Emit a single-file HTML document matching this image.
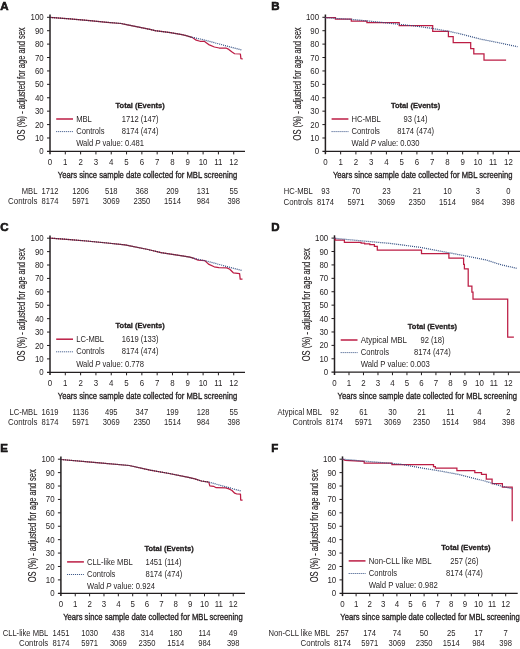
<!DOCTYPE html>
<html><head><meta charset="utf-8"><style>
html,body{margin:0;padding:0;background:#fff;}
svg{display:block;will-change:transform;}
text{font-family:"Liberation Sans",sans-serif;fill:#231f20;}
</style></head><body>
<svg width="520" height="649" viewBox="0 0 520 649">
<rect width="520" height="649" fill="#fff"/>
<g id="pA">
<text x="0.2" y="9.7" font-size="11.5" font-weight="bold" fill="#000" stroke="#000" stroke-width="0.55">A</text>
<path d="M50.0,14.50 V154.20" stroke="#231f20" stroke-width="1.5" fill="none"/>
<path d="M47.0,151.4 H245.0" stroke="#231f20" stroke-width="1.2" fill="none"/>
<text transform="translate(43.70,154.45) scale(0.92,1)" font-size="8.6" text-anchor="end">0</text>
<path d="M47.0,137.99 H50.0" stroke="#231f20" stroke-width="1" fill="none"/>
<text transform="translate(43.70,141.04) scale(0.92,1)" font-size="8.6" text-anchor="end">10</text>
<path d="M47.0,124.58 H50.0" stroke="#231f20" stroke-width="1" fill="none"/>
<text transform="translate(43.70,127.63) scale(0.92,1)" font-size="8.6" text-anchor="end">20</text>
<path d="M47.0,111.17 H50.0" stroke="#231f20" stroke-width="1" fill="none"/>
<text transform="translate(43.70,114.22) scale(0.92,1)" font-size="8.6" text-anchor="end">30</text>
<path d="M47.0,97.76 H50.0" stroke="#231f20" stroke-width="1" fill="none"/>
<text transform="translate(43.70,100.81) scale(0.92,1)" font-size="8.6" text-anchor="end">40</text>
<path d="M47.0,84.35 H50.0" stroke="#231f20" stroke-width="1" fill="none"/>
<text transform="translate(43.70,87.40) scale(0.92,1)" font-size="8.6" text-anchor="end">50</text>
<path d="M47.0,70.94 H50.0" stroke="#231f20" stroke-width="1" fill="none"/>
<text transform="translate(43.70,73.99) scale(0.92,1)" font-size="8.6" text-anchor="end">60</text>
<path d="M47.0,57.53 H50.0" stroke="#231f20" stroke-width="1" fill="none"/>
<text transform="translate(43.70,60.58) scale(0.92,1)" font-size="8.6" text-anchor="end">70</text>
<path d="M47.0,44.12 H50.0" stroke="#231f20" stroke-width="1" fill="none"/>
<text transform="translate(43.70,47.17) scale(0.92,1)" font-size="8.6" text-anchor="end">80</text>
<path d="M47.0,30.71 H50.0" stroke="#231f20" stroke-width="1" fill="none"/>
<text transform="translate(43.70,33.76) scale(0.92,1)" font-size="8.6" text-anchor="end">90</text>
<path d="M47.0,17.30 H50.0" stroke="#231f20" stroke-width="1" fill="none"/>
<text transform="translate(43.70,20.35) scale(0.92,1)" font-size="8.6" text-anchor="end">100</text>
<text transform="translate(50.00,164.80) scale(0.92,1)" font-size="8.6" text-anchor="middle">0</text>
<path d="M65.31,151.4 V154.40" stroke="#231f20" stroke-width="1" fill="none"/>
<text transform="translate(65.31,164.80) scale(0.92,1)" font-size="8.6" text-anchor="middle">1</text>
<path d="M80.62,151.4 V154.40" stroke="#231f20" stroke-width="1" fill="none"/>
<text transform="translate(80.62,164.80) scale(0.92,1)" font-size="8.6" text-anchor="middle">2</text>
<path d="M95.93,151.4 V154.40" stroke="#231f20" stroke-width="1" fill="none"/>
<text transform="translate(95.93,164.80) scale(0.92,1)" font-size="8.6" text-anchor="middle">3</text>
<path d="M111.24,151.4 V154.40" stroke="#231f20" stroke-width="1" fill="none"/>
<text transform="translate(111.24,164.80) scale(0.92,1)" font-size="8.6" text-anchor="middle">4</text>
<path d="M126.55,151.4 V154.40" stroke="#231f20" stroke-width="1" fill="none"/>
<text transform="translate(126.55,164.80) scale(0.92,1)" font-size="8.6" text-anchor="middle">5</text>
<path d="M141.86,151.4 V154.40" stroke="#231f20" stroke-width="1" fill="none"/>
<text transform="translate(141.86,164.80) scale(0.92,1)" font-size="8.6" text-anchor="middle">6</text>
<path d="M157.17,151.4 V154.40" stroke="#231f20" stroke-width="1" fill="none"/>
<text transform="translate(157.17,164.80) scale(0.92,1)" font-size="8.6" text-anchor="middle">7</text>
<path d="M172.48,151.4 V154.40" stroke="#231f20" stroke-width="1" fill="none"/>
<text transform="translate(172.48,164.80) scale(0.92,1)" font-size="8.6" text-anchor="middle">8</text>
<path d="M187.79,151.4 V154.40" stroke="#231f20" stroke-width="1" fill="none"/>
<text transform="translate(187.79,164.80) scale(0.92,1)" font-size="8.6" text-anchor="middle">9</text>
<path d="M203.10,151.4 V154.40" stroke="#231f20" stroke-width="1" fill="none"/>
<text transform="translate(203.10,164.80) scale(0.92,1)" font-size="8.6" text-anchor="middle">10</text>
<path d="M218.41,151.4 V154.40" stroke="#231f20" stroke-width="1" fill="none"/>
<text transform="translate(218.41,164.80) scale(0.92,1)" font-size="8.6" text-anchor="middle">11</text>
<path d="M233.72,151.4 V154.40" stroke="#231f20" stroke-width="1" fill="none"/>
<text transform="translate(233.72,164.80) scale(0.92,1)" font-size="8.6" text-anchor="middle">12</text>
<text x="57.75" y="178.10" font-size="9.8" stroke="#231f20" stroke-width="0.35" textLength="179.5" lengthAdjust="spacingAndGlyphs">Years since sample date collected for MBL screening</text>
<text transform="translate(25.40,140.40) rotate(-90)" x="0" y="0" font-size="10" stroke="#231f20" stroke-width="0.15" textLength="113" lengthAdjust="spacingAndGlyphs">OS (%) - adjusted for age and sex</text>
<text x="115.50" y="108.00" font-size="7.8" font-weight="bold" stroke="#231f20" stroke-width="0.3" textLength="49.3" lengthAdjust="spacingAndGlyphs">Total (Events)</text>
<path d="M56.20,119.00 H73.00" stroke="#bc1d44" stroke-width="1.5" fill="none"/>
<path d="M56.20,131.60 H73.00" stroke="#2f4c80" stroke-width="1" stroke-dasharray="1 1" fill="none"/>
<text transform="translate(76.20,121.90) scale(0.885,1)" font-size="8.6">MBL</text>
<text transform="translate(76.20,133.90) scale(0.885,1)" font-size="8.6">Controls</text>
<text transform="translate(76.20,146.30) scale(0.885,1)" font-size="8.6">Wald <tspan font-style="italic">P</tspan> value: 0.481</text>
<text transform="translate(140.15,121.90) scale(0.885,1)" font-size="8.6" text-anchor="middle">1712 (147)</text>
<text transform="translate(140.15,133.90) scale(0.885,1)" font-size="8.6" text-anchor="middle">8174 (474)</text>
<text transform="translate(37.40,193.80) scale(0.885,1)" font-size="8.6" text-anchor="end">MBL</text>
<text transform="translate(37.40,203.80) scale(0.915,1)" font-size="8.6" text-anchor="end">Controls</text>
<text transform="translate(50.00,193.80) scale(0.885,1)" font-size="8.6" text-anchor="middle">1712</text>
<text transform="translate(50.00,203.80) scale(0.885,1)" font-size="8.6" text-anchor="middle">8174</text>
<text transform="translate(80.62,193.80) scale(0.885,1)" font-size="8.6" text-anchor="middle">1206</text>
<text transform="translate(80.62,203.80) scale(0.885,1)" font-size="8.6" text-anchor="middle">5971</text>
<text transform="translate(111.24,193.80) scale(0.885,1)" font-size="8.6" text-anchor="middle">518</text>
<text transform="translate(111.24,203.80) scale(0.885,1)" font-size="8.6" text-anchor="middle">3069</text>
<text transform="translate(141.86,193.80) scale(0.885,1)" font-size="8.6" text-anchor="middle">368</text>
<text transform="translate(141.86,203.80) scale(0.885,1)" font-size="8.6" text-anchor="middle">2350</text>
<text transform="translate(172.48,193.80) scale(0.885,1)" font-size="8.6" text-anchor="middle">209</text>
<text transform="translate(172.48,203.80) scale(0.885,1)" font-size="8.6" text-anchor="middle">1514</text>
<text transform="translate(203.10,193.80) scale(0.885,1)" font-size="8.6" text-anchor="middle">131</text>
<text transform="translate(203.10,203.80) scale(0.885,1)" font-size="8.6" text-anchor="middle">984</text>
<text transform="translate(233.72,193.80) scale(0.885,1)" font-size="8.6" text-anchor="middle">55</text>
<text transform="translate(233.72,203.80) scale(0.885,1)" font-size="8.6" text-anchor="middle">398</text>
<path d="M50,17.4 L70,18.9 L90,20.7 L107,22.3 L121,23.5 L125,24.3 L140,27.3 L150,29.4 L155,30.7 L168.8,32.4 L182,34.6 L186.1,35.6 L192,37.3" stroke="#a81e40" stroke-width="1.25" fill="none" stroke-linejoin="round"/>
<path d="M192,37.3 L196.2,40.2 L200,41.25 L204.3,41.25 L206.25,42.7 L208.7,44.6 L214.4,47 L219.2,48 L226,48 L228.8,49.4 L231.7,51.8 L234.6,53.75 L240.4,54 L240.9,58.6 L242.8,59" stroke="#bc1d44" stroke-width="1.25" fill="none" stroke-linejoin="round"/>
<path d="M192,37.3 L200,39 L220,44.2 L241.3,49.9" stroke="#2f4c80" stroke-width="1.25" stroke-dasharray="1 1" fill="none"/>
<path d="M50,17.4 L70,18.9 L90,20.7 L107,22.3 L121,23.5 L125,24.3 L140,27.3 L150,29.4 L155,30.7 L168.8,32.4 L182,34.6 L186.1,35.6 L192,37.3" stroke="#2e3448" stroke-width="1.25" stroke-dasharray="1 1" fill="none"/>
</g>
<g id="pB">
<text x="271.2" y="9.7" font-size="11.5" font-weight="bold" fill="#000" stroke="#000" stroke-width="0.55">B</text>
<path d="M325.4,14.50 V154.20" stroke="#231f20" stroke-width="1.5" fill="none"/>
<path d="M322.4,151.4 H520.0" stroke="#231f20" stroke-width="1.2" fill="none"/>
<text transform="translate(319.10,154.45) scale(0.92,1)" font-size="8.6" text-anchor="end">0</text>
<path d="M322.4,137.99 H325.4" stroke="#231f20" stroke-width="1" fill="none"/>
<text transform="translate(319.10,141.04) scale(0.92,1)" font-size="8.6" text-anchor="end">10</text>
<path d="M322.4,124.58 H325.4" stroke="#231f20" stroke-width="1" fill="none"/>
<text transform="translate(319.10,127.63) scale(0.92,1)" font-size="8.6" text-anchor="end">20</text>
<path d="M322.4,111.17 H325.4" stroke="#231f20" stroke-width="1" fill="none"/>
<text transform="translate(319.10,114.22) scale(0.92,1)" font-size="8.6" text-anchor="end">30</text>
<path d="M322.4,97.76 H325.4" stroke="#231f20" stroke-width="1" fill="none"/>
<text transform="translate(319.10,100.81) scale(0.92,1)" font-size="8.6" text-anchor="end">40</text>
<path d="M322.4,84.35 H325.4" stroke="#231f20" stroke-width="1" fill="none"/>
<text transform="translate(319.10,87.40) scale(0.92,1)" font-size="8.6" text-anchor="end">50</text>
<path d="M322.4,70.94 H325.4" stroke="#231f20" stroke-width="1" fill="none"/>
<text transform="translate(319.10,73.99) scale(0.92,1)" font-size="8.6" text-anchor="end">60</text>
<path d="M322.4,57.53 H325.4" stroke="#231f20" stroke-width="1" fill="none"/>
<text transform="translate(319.10,60.58) scale(0.92,1)" font-size="8.6" text-anchor="end">70</text>
<path d="M322.4,44.12 H325.4" stroke="#231f20" stroke-width="1" fill="none"/>
<text transform="translate(319.10,47.17) scale(0.92,1)" font-size="8.6" text-anchor="end">80</text>
<path d="M322.4,30.71 H325.4" stroke="#231f20" stroke-width="1" fill="none"/>
<text transform="translate(319.10,33.76) scale(0.92,1)" font-size="8.6" text-anchor="end">90</text>
<path d="M322.4,17.30 H325.4" stroke="#231f20" stroke-width="1" fill="none"/>
<text transform="translate(319.10,20.35) scale(0.92,1)" font-size="8.6" text-anchor="end">100</text>
<text transform="translate(325.40,164.80) scale(0.92,1)" font-size="8.6" text-anchor="middle">0</text>
<path d="M340.65,151.4 V154.40" stroke="#231f20" stroke-width="1" fill="none"/>
<text transform="translate(340.65,164.80) scale(0.92,1)" font-size="8.6" text-anchor="middle">1</text>
<path d="M355.90,151.4 V154.40" stroke="#231f20" stroke-width="1" fill="none"/>
<text transform="translate(355.90,164.80) scale(0.92,1)" font-size="8.6" text-anchor="middle">2</text>
<path d="M371.15,151.4 V154.40" stroke="#231f20" stroke-width="1" fill="none"/>
<text transform="translate(371.15,164.80) scale(0.92,1)" font-size="8.6" text-anchor="middle">3</text>
<path d="M386.40,151.4 V154.40" stroke="#231f20" stroke-width="1" fill="none"/>
<text transform="translate(386.40,164.80) scale(0.92,1)" font-size="8.6" text-anchor="middle">4</text>
<path d="M401.65,151.4 V154.40" stroke="#231f20" stroke-width="1" fill="none"/>
<text transform="translate(401.65,164.80) scale(0.92,1)" font-size="8.6" text-anchor="middle">5</text>
<path d="M416.90,151.4 V154.40" stroke="#231f20" stroke-width="1" fill="none"/>
<text transform="translate(416.90,164.80) scale(0.92,1)" font-size="8.6" text-anchor="middle">6</text>
<path d="M432.15,151.4 V154.40" stroke="#231f20" stroke-width="1" fill="none"/>
<text transform="translate(432.15,164.80) scale(0.92,1)" font-size="8.6" text-anchor="middle">7</text>
<path d="M447.40,151.4 V154.40" stroke="#231f20" stroke-width="1" fill="none"/>
<text transform="translate(447.40,164.80) scale(0.92,1)" font-size="8.6" text-anchor="middle">8</text>
<path d="M462.65,151.4 V154.40" stroke="#231f20" stroke-width="1" fill="none"/>
<text transform="translate(462.65,164.80) scale(0.92,1)" font-size="8.6" text-anchor="middle">9</text>
<path d="M477.90,151.4 V154.40" stroke="#231f20" stroke-width="1" fill="none"/>
<text transform="translate(477.90,164.80) scale(0.92,1)" font-size="8.6" text-anchor="middle">10</text>
<path d="M493.15,151.4 V154.40" stroke="#231f20" stroke-width="1" fill="none"/>
<text transform="translate(493.15,164.80) scale(0.92,1)" font-size="8.6" text-anchor="middle">11</text>
<path d="M508.40,151.4 V154.40" stroke="#231f20" stroke-width="1" fill="none"/>
<text transform="translate(508.40,164.80) scale(0.92,1)" font-size="8.6" text-anchor="middle">12</text>
<text x="332.95" y="178.10" font-size="9.8" stroke="#231f20" stroke-width="0.35" textLength="179.5" lengthAdjust="spacingAndGlyphs">Years since sample date collected for MBL screening</text>
<text transform="translate(300.80,140.40) rotate(-90)" x="0" y="0" font-size="10" stroke="#231f20" stroke-width="0.15" textLength="113" lengthAdjust="spacingAndGlyphs">OS (%) - adjusted for age and sex</text>
<text x="390.90" y="108.00" font-size="7.8" font-weight="bold" stroke="#231f20" stroke-width="0.3" textLength="49.3" lengthAdjust="spacingAndGlyphs">Total (Events)</text>
<path d="M331.60,119.00 H348.40" stroke="#bc1d44" stroke-width="1.5" fill="none"/>
<path d="M331.60,131.60 H348.40" stroke="#2f4c80" stroke-width="1" stroke-dasharray="1 1" fill="none"/>
<text transform="translate(351.60,121.90) scale(0.885,1)" font-size="8.6">HC-MBL</text>
<text transform="translate(351.60,133.90) scale(0.885,1)" font-size="8.6">Controls</text>
<text transform="translate(351.60,146.30) scale(0.885,1)" font-size="8.6">Wald <tspan font-style="italic">P</tspan> value: 0.030</text>
<text transform="translate(415.55,121.90) scale(0.885,1)" font-size="8.6" text-anchor="middle">93 (14)</text>
<text transform="translate(415.55,133.90) scale(0.885,1)" font-size="8.6" text-anchor="middle">8174 (474)</text>
<text transform="translate(312.80,193.80) scale(0.885,1)" font-size="8.6" text-anchor="end">HC-MBL</text>
<text transform="translate(312.80,204.50) scale(0.915,1)" font-size="8.6" text-anchor="end">Controls</text>
<text transform="translate(325.40,193.80) scale(0.885,1)" font-size="8.6" text-anchor="middle">93</text>
<text transform="translate(325.40,204.50) scale(0.885,1)" font-size="8.6" text-anchor="middle">8174</text>
<text transform="translate(355.90,193.80) scale(0.885,1)" font-size="8.6" text-anchor="middle">70</text>
<text transform="translate(355.90,204.50) scale(0.885,1)" font-size="8.6" text-anchor="middle">5971</text>
<text transform="translate(386.40,193.80) scale(0.885,1)" font-size="8.6" text-anchor="middle">23</text>
<text transform="translate(386.40,204.50) scale(0.885,1)" font-size="8.6" text-anchor="middle">3069</text>
<text transform="translate(416.90,193.80) scale(0.885,1)" font-size="8.6" text-anchor="middle">21</text>
<text transform="translate(416.90,204.50) scale(0.885,1)" font-size="8.6" text-anchor="middle">2350</text>
<text transform="translate(447.40,193.80) scale(0.885,1)" font-size="8.6" text-anchor="middle">10</text>
<text transform="translate(447.40,204.50) scale(0.885,1)" font-size="8.6" text-anchor="middle">1514</text>
<text transform="translate(477.90,193.80) scale(0.885,1)" font-size="8.6" text-anchor="middle">3</text>
<text transform="translate(477.90,204.50) scale(0.885,1)" font-size="8.6" text-anchor="middle">984</text>
<text transform="translate(508.40,193.80) scale(0.885,1)" font-size="8.6" text-anchor="middle">0</text>
<text transform="translate(508.40,204.50) scale(0.885,1)" font-size="8.6" text-anchor="middle">398</text>
<path d="M325.4,17.7 H335.4 V19.0 H351.3 V21.1 H366.9 V22.7 H399.2 V25.6 H432.7 V31.3 H448.4 V36.6 H453.2 V42.6 H470.7 V48.7 H473.8 V53.9 H484.0 V60.2 H506.1" stroke="#bc1d44" stroke-width="1.25" fill="none"/>
<path d="M325.4,17.6 L335.4,18.4 L351.3,19.3 L366.9,20.9 L380,22.2 L399,24.3 L410,25.5 L420,26.7 L432,28.4 L440,29.8 L450,31.5 L465,35 L480,39 L500,43 L517.5,46.7" stroke="#2f4c80" stroke-width="1.25" stroke-dasharray="1 1" fill="none"/>
</g>
<g id="pC">
<text x="0.2" y="230.6" font-size="11.5" font-weight="bold" fill="#000" stroke="#000" stroke-width="0.55">C</text>
<path d="M50.0,235.40 V375.10" stroke="#231f20" stroke-width="1.5" fill="none"/>
<path d="M47.0,372.3 H245.0" stroke="#231f20" stroke-width="1.2" fill="none"/>
<text transform="translate(43.70,375.35) scale(0.92,1)" font-size="8.6" text-anchor="end">0</text>
<path d="M47.0,358.89 H50.0" stroke="#231f20" stroke-width="1" fill="none"/>
<text transform="translate(43.70,361.94) scale(0.92,1)" font-size="8.6" text-anchor="end">10</text>
<path d="M47.0,345.48 H50.0" stroke="#231f20" stroke-width="1" fill="none"/>
<text transform="translate(43.70,348.53) scale(0.92,1)" font-size="8.6" text-anchor="end">20</text>
<path d="M47.0,332.07 H50.0" stroke="#231f20" stroke-width="1" fill="none"/>
<text transform="translate(43.70,335.12) scale(0.92,1)" font-size="8.6" text-anchor="end">30</text>
<path d="M47.0,318.66 H50.0" stroke="#231f20" stroke-width="1" fill="none"/>
<text transform="translate(43.70,321.71) scale(0.92,1)" font-size="8.6" text-anchor="end">40</text>
<path d="M47.0,305.25 H50.0" stroke="#231f20" stroke-width="1" fill="none"/>
<text transform="translate(43.70,308.30) scale(0.92,1)" font-size="8.6" text-anchor="end">50</text>
<path d="M47.0,291.84 H50.0" stroke="#231f20" stroke-width="1" fill="none"/>
<text transform="translate(43.70,294.89) scale(0.92,1)" font-size="8.6" text-anchor="end">60</text>
<path d="M47.0,278.43 H50.0" stroke="#231f20" stroke-width="1" fill="none"/>
<text transform="translate(43.70,281.48) scale(0.92,1)" font-size="8.6" text-anchor="end">70</text>
<path d="M47.0,265.02 H50.0" stroke="#231f20" stroke-width="1" fill="none"/>
<text transform="translate(43.70,268.07) scale(0.92,1)" font-size="8.6" text-anchor="end">80</text>
<path d="M47.0,251.61 H50.0" stroke="#231f20" stroke-width="1" fill="none"/>
<text transform="translate(43.70,254.66) scale(0.92,1)" font-size="8.6" text-anchor="end">90</text>
<path d="M47.0,238.20 H50.0" stroke="#231f20" stroke-width="1" fill="none"/>
<text transform="translate(43.70,241.25) scale(0.92,1)" font-size="8.6" text-anchor="end">100</text>
<text transform="translate(50.00,385.70) scale(0.92,1)" font-size="8.6" text-anchor="middle">0</text>
<path d="M65.31,372.3 V375.30" stroke="#231f20" stroke-width="1" fill="none"/>
<text transform="translate(65.31,385.70) scale(0.92,1)" font-size="8.6" text-anchor="middle">1</text>
<path d="M80.62,372.3 V375.30" stroke="#231f20" stroke-width="1" fill="none"/>
<text transform="translate(80.62,385.70) scale(0.92,1)" font-size="8.6" text-anchor="middle">2</text>
<path d="M95.93,372.3 V375.30" stroke="#231f20" stroke-width="1" fill="none"/>
<text transform="translate(95.93,385.70) scale(0.92,1)" font-size="8.6" text-anchor="middle">3</text>
<path d="M111.24,372.3 V375.30" stroke="#231f20" stroke-width="1" fill="none"/>
<text transform="translate(111.24,385.70) scale(0.92,1)" font-size="8.6" text-anchor="middle">4</text>
<path d="M126.55,372.3 V375.30" stroke="#231f20" stroke-width="1" fill="none"/>
<text transform="translate(126.55,385.70) scale(0.92,1)" font-size="8.6" text-anchor="middle">5</text>
<path d="M141.86,372.3 V375.30" stroke="#231f20" stroke-width="1" fill="none"/>
<text transform="translate(141.86,385.70) scale(0.92,1)" font-size="8.6" text-anchor="middle">6</text>
<path d="M157.17,372.3 V375.30" stroke="#231f20" stroke-width="1" fill="none"/>
<text transform="translate(157.17,385.70) scale(0.92,1)" font-size="8.6" text-anchor="middle">7</text>
<path d="M172.48,372.3 V375.30" stroke="#231f20" stroke-width="1" fill="none"/>
<text transform="translate(172.48,385.70) scale(0.92,1)" font-size="8.6" text-anchor="middle">8</text>
<path d="M187.79,372.3 V375.30" stroke="#231f20" stroke-width="1" fill="none"/>
<text transform="translate(187.79,385.70) scale(0.92,1)" font-size="8.6" text-anchor="middle">9</text>
<path d="M203.10,372.3 V375.30" stroke="#231f20" stroke-width="1" fill="none"/>
<text transform="translate(203.10,385.70) scale(0.92,1)" font-size="8.6" text-anchor="middle">10</text>
<path d="M218.41,372.3 V375.30" stroke="#231f20" stroke-width="1" fill="none"/>
<text transform="translate(218.41,385.70) scale(0.92,1)" font-size="8.6" text-anchor="middle">11</text>
<path d="M233.72,372.3 V375.30" stroke="#231f20" stroke-width="1" fill="none"/>
<text transform="translate(233.72,385.70) scale(0.92,1)" font-size="8.6" text-anchor="middle">12</text>
<text x="57.75" y="399.00" font-size="9.8" stroke="#231f20" stroke-width="0.35" textLength="179.5" lengthAdjust="spacingAndGlyphs">Years since sample date collected for MBL screening</text>
<text transform="translate(25.40,361.30) rotate(-90)" x="0" y="0" font-size="10" stroke="#231f20" stroke-width="0.15" textLength="113" lengthAdjust="spacingAndGlyphs">OS (%) - adjusted for age and sex</text>
<text x="115.50" y="328.20" font-size="7.8" font-weight="bold" stroke="#231f20" stroke-width="0.3" textLength="49.3" lengthAdjust="spacingAndGlyphs">Total (Events)</text>
<path d="M56.20,339.20 H73.00" stroke="#bc1d44" stroke-width="1.5" fill="none"/>
<path d="M56.20,351.80 H73.00" stroke="#2f4c80" stroke-width="1" stroke-dasharray="1 1" fill="none"/>
<text transform="translate(76.20,342.10) scale(0.885,1)" font-size="8.6">LC-MBL</text>
<text transform="translate(76.20,354.10) scale(0.885,1)" font-size="8.6">Controls</text>
<text transform="translate(76.20,366.50) scale(0.885,1)" font-size="8.6">Wald <tspan font-style="italic">P</tspan> value: 0.778</text>
<text transform="translate(140.15,342.10) scale(0.885,1)" font-size="8.6" text-anchor="middle">1619 (133)</text>
<text transform="translate(140.15,354.10) scale(0.885,1)" font-size="8.6" text-anchor="middle">8174 (474)</text>
<text transform="translate(37.40,414.70) scale(0.885,1)" font-size="8.6" text-anchor="end">LC-MBL</text>
<text transform="translate(37.40,425.40) scale(0.915,1)" font-size="8.6" text-anchor="end">Controls</text>
<text transform="translate(50.00,414.70) scale(0.885,1)" font-size="8.6" text-anchor="middle">1619</text>
<text transform="translate(50.00,425.40) scale(0.885,1)" font-size="8.6" text-anchor="middle">8174</text>
<text transform="translate(80.62,414.70) scale(0.885,1)" font-size="8.6" text-anchor="middle">1136</text>
<text transform="translate(80.62,425.40) scale(0.885,1)" font-size="8.6" text-anchor="middle">5971</text>
<text transform="translate(111.24,414.70) scale(0.885,1)" font-size="8.6" text-anchor="middle">495</text>
<text transform="translate(111.24,425.40) scale(0.885,1)" font-size="8.6" text-anchor="middle">3069</text>
<text transform="translate(141.86,414.70) scale(0.885,1)" font-size="8.6" text-anchor="middle">347</text>
<text transform="translate(141.86,425.40) scale(0.885,1)" font-size="8.6" text-anchor="middle">2350</text>
<text transform="translate(172.48,414.70) scale(0.885,1)" font-size="8.6" text-anchor="middle">199</text>
<text transform="translate(172.48,425.40) scale(0.885,1)" font-size="8.6" text-anchor="middle">1514</text>
<text transform="translate(203.10,414.70) scale(0.885,1)" font-size="8.6" text-anchor="middle">128</text>
<text transform="translate(203.10,425.40) scale(0.885,1)" font-size="8.6" text-anchor="middle">984</text>
<text transform="translate(233.72,414.70) scale(0.885,1)" font-size="8.6" text-anchor="middle">55</text>
<text transform="translate(233.72,425.40) scale(0.885,1)" font-size="8.6" text-anchor="middle">398</text>
<path d="M50,238.1 L70,239.6 L86.5,241.0 L107,243.0 L125,244.9 L148,249.5 L161.1,252.7 L182.3,255.9 L190,257.2 L194,258.4" stroke="#a81e40" stroke-width="1.25" fill="none" stroke-linejoin="round"/>
<path d="M194,258.4 L198.1,260.1 L205,260.7 L208.5,264.1 L214.2,266.8 L218.8,267.6 L226.9,267.9 L229.8,269.3 L233.3,272.8 L239.6,273.6 L240.2,279.1 L242.5,279.1" stroke="#bc1d44" stroke-width="1.25" fill="none" stroke-linejoin="round"/>
<path d="M194,258.4 L206.1,261 L241.9,270.5" stroke="#2f4c80" stroke-width="1.25" stroke-dasharray="1 1" fill="none"/>
<path d="M50,238.1 L70,239.6 L86.5,241.0 L107,243.0 L125,244.9 L148,249.5 L161.1,252.7 L182.3,255.9 L190,257.2 L194,258.4" stroke="#2e3448" stroke-width="1.25" stroke-dasharray="1 1" fill="none"/>
</g>
<g id="pD">
<text x="271.2" y="230.6" font-size="11.5" font-weight="bold" fill="#000" stroke="#000" stroke-width="0.55">D</text>
<path d="M334.5,235.30 V375.00" stroke="#231f20" stroke-width="1.5" fill="none"/>
<path d="M331.5,372.2 H520.0" stroke="#231f20" stroke-width="1.2" fill="none"/>
<text transform="translate(328.20,375.25) scale(0.92,1)" font-size="8.6" text-anchor="end">0</text>
<path d="M331.5,358.79 H334.5" stroke="#231f20" stroke-width="1" fill="none"/>
<text transform="translate(328.20,361.84) scale(0.92,1)" font-size="8.6" text-anchor="end">10</text>
<path d="M331.5,345.38 H334.5" stroke="#231f20" stroke-width="1" fill="none"/>
<text transform="translate(328.20,348.43) scale(0.92,1)" font-size="8.6" text-anchor="end">20</text>
<path d="M331.5,331.97 H334.5" stroke="#231f20" stroke-width="1" fill="none"/>
<text transform="translate(328.20,335.02) scale(0.92,1)" font-size="8.6" text-anchor="end">30</text>
<path d="M331.5,318.56 H334.5" stroke="#231f20" stroke-width="1" fill="none"/>
<text transform="translate(328.20,321.61) scale(0.92,1)" font-size="8.6" text-anchor="end">40</text>
<path d="M331.5,305.15 H334.5" stroke="#231f20" stroke-width="1" fill="none"/>
<text transform="translate(328.20,308.20) scale(0.92,1)" font-size="8.6" text-anchor="end">50</text>
<path d="M331.5,291.74 H334.5" stroke="#231f20" stroke-width="1" fill="none"/>
<text transform="translate(328.20,294.79) scale(0.92,1)" font-size="8.6" text-anchor="end">60</text>
<path d="M331.5,278.33 H334.5" stroke="#231f20" stroke-width="1" fill="none"/>
<text transform="translate(328.20,281.38) scale(0.92,1)" font-size="8.6" text-anchor="end">70</text>
<path d="M331.5,264.92 H334.5" stroke="#231f20" stroke-width="1" fill="none"/>
<text transform="translate(328.20,267.97) scale(0.92,1)" font-size="8.6" text-anchor="end">80</text>
<path d="M331.5,251.51 H334.5" stroke="#231f20" stroke-width="1" fill="none"/>
<text transform="translate(328.20,254.56) scale(0.92,1)" font-size="8.6" text-anchor="end">90</text>
<path d="M331.5,238.10 H334.5" stroke="#231f20" stroke-width="1" fill="none"/>
<text transform="translate(328.20,241.15) scale(0.92,1)" font-size="8.6" text-anchor="end">100</text>
<text transform="translate(334.50,385.60) scale(0.92,1)" font-size="8.6" text-anchor="middle">0</text>
<path d="M348.99,372.2 V375.20" stroke="#231f20" stroke-width="1" fill="none"/>
<text transform="translate(348.99,385.60) scale(0.92,1)" font-size="8.6" text-anchor="middle">1</text>
<path d="M363.48,372.2 V375.20" stroke="#231f20" stroke-width="1" fill="none"/>
<text transform="translate(363.48,385.60) scale(0.92,1)" font-size="8.6" text-anchor="middle">2</text>
<path d="M377.97,372.2 V375.20" stroke="#231f20" stroke-width="1" fill="none"/>
<text transform="translate(377.97,385.60) scale(0.92,1)" font-size="8.6" text-anchor="middle">3</text>
<path d="M392.46,372.2 V375.20" stroke="#231f20" stroke-width="1" fill="none"/>
<text transform="translate(392.46,385.60) scale(0.92,1)" font-size="8.6" text-anchor="middle">4</text>
<path d="M406.95,372.2 V375.20" stroke="#231f20" stroke-width="1" fill="none"/>
<text transform="translate(406.95,385.60) scale(0.92,1)" font-size="8.6" text-anchor="middle">5</text>
<path d="M421.44,372.2 V375.20" stroke="#231f20" stroke-width="1" fill="none"/>
<text transform="translate(421.44,385.60) scale(0.92,1)" font-size="8.6" text-anchor="middle">6</text>
<path d="M435.93,372.2 V375.20" stroke="#231f20" stroke-width="1" fill="none"/>
<text transform="translate(435.93,385.60) scale(0.92,1)" font-size="8.6" text-anchor="middle">7</text>
<path d="M450.42,372.2 V375.20" stroke="#231f20" stroke-width="1" fill="none"/>
<text transform="translate(450.42,385.60) scale(0.92,1)" font-size="8.6" text-anchor="middle">8</text>
<path d="M464.91,372.2 V375.20" stroke="#231f20" stroke-width="1" fill="none"/>
<text transform="translate(464.91,385.60) scale(0.92,1)" font-size="8.6" text-anchor="middle">9</text>
<path d="M479.40,372.2 V375.20" stroke="#231f20" stroke-width="1" fill="none"/>
<text transform="translate(479.40,385.60) scale(0.92,1)" font-size="8.6" text-anchor="middle">10</text>
<path d="M493.89,372.2 V375.20" stroke="#231f20" stroke-width="1" fill="none"/>
<text transform="translate(493.89,385.60) scale(0.92,1)" font-size="8.6" text-anchor="middle">11</text>
<path d="M508.38,372.2 V375.20" stroke="#231f20" stroke-width="1" fill="none"/>
<text transform="translate(508.38,385.60) scale(0.92,1)" font-size="8.6" text-anchor="middle">12</text>
<text x="337.50" y="398.90" font-size="9.8" stroke="#231f20" stroke-width="0.35" textLength="179.5" lengthAdjust="spacingAndGlyphs">Years since sample date collected for MBL screening</text>
<text transform="translate(309.90,361.20) rotate(-90)" x="0" y="0" font-size="10" stroke="#231f20" stroke-width="0.15" textLength="113" lengthAdjust="spacingAndGlyphs">OS (%) - adjusted for age and sex</text>
<text x="407.80" y="329.00" font-size="7.8" font-weight="bold" stroke="#231f20" stroke-width="0.3" textLength="49.3" lengthAdjust="spacingAndGlyphs">Total (Events)</text>
<path d="M340.70,340.00 H357.50" stroke="#bc1d44" stroke-width="1.5" fill="none"/>
<path d="M340.70,352.60 H357.50" stroke="#2f4c80" stroke-width="1" stroke-dasharray="1 1" fill="none"/>
<text transform="translate(360.70,342.90) scale(0.925,1)" font-size="8.6">Atypical MBL</text>
<text transform="translate(360.70,354.90) scale(0.885,1)" font-size="8.6">Controls</text>
<text transform="translate(360.70,367.30) scale(0.905,1)" font-size="8.6">Wald P value: 0.003</text>
<text transform="translate(432.45,342.90) scale(0.885,1)" font-size="8.6" text-anchor="middle">92 (18)</text>
<text transform="translate(432.45,354.90) scale(0.885,1)" font-size="8.6" text-anchor="middle">8174 (474)</text>
<text transform="translate(321.90,414.60) scale(0.885,1)" font-size="8.6" text-anchor="end">Atypical MBL</text>
<text transform="translate(321.90,425.30) scale(0.915,1)" font-size="8.6" text-anchor="end">Controls</text>
<text transform="translate(334.50,414.60) scale(0.885,1)" font-size="8.6" text-anchor="middle">92</text>
<text transform="translate(334.50,425.30) scale(0.885,1)" font-size="8.6" text-anchor="middle">8174</text>
<text transform="translate(363.48,414.60) scale(0.885,1)" font-size="8.6" text-anchor="middle">61</text>
<text transform="translate(363.48,425.30) scale(0.885,1)" font-size="8.6" text-anchor="middle">5971</text>
<text transform="translate(392.46,414.60) scale(0.885,1)" font-size="8.6" text-anchor="middle">30</text>
<text transform="translate(392.46,425.30) scale(0.885,1)" font-size="8.6" text-anchor="middle">3069</text>
<text transform="translate(421.44,414.60) scale(0.885,1)" font-size="8.6" text-anchor="middle">21</text>
<text transform="translate(421.44,425.30) scale(0.885,1)" font-size="8.6" text-anchor="middle">2350</text>
<text transform="translate(450.42,414.60) scale(0.885,1)" font-size="8.6" text-anchor="middle">11</text>
<text transform="translate(450.42,425.30) scale(0.885,1)" font-size="8.6" text-anchor="middle">1514</text>
<text transform="translate(479.40,414.60) scale(0.885,1)" font-size="8.6" text-anchor="middle">4</text>
<text transform="translate(479.40,425.30) scale(0.885,1)" font-size="8.6" text-anchor="middle">984</text>
<text transform="translate(508.38,414.60) scale(0.885,1)" font-size="8.6" text-anchor="middle">2</text>
<text transform="translate(508.38,425.30) scale(0.885,1)" font-size="8.6" text-anchor="middle">398</text>
<path d="M334.5,238.3 H335.2 V240.1 H344.4 V242.3 H361.1 V243.2 H364.6 V243.9 H369.8 V244.5 H374.4 V246.4 H377.3 V250.0 H421.5 V253.5 H448.9 V258 H463.6 V264.4 H464.4 V268.9 H468.2 V286.2 H471.9 V292.2 H473 V299.1 H507.7 V337.1 H513.9" stroke="#bc1d44" stroke-width="1.25" fill="none"/>
<path d="M334.5,238.3 L360,240.7 L390,243.4 L420,247.3 L440,251.1 L463.1,255.4 L486.2,260 L501.5,264.9 L517.4,268.4" stroke="#2f4c80" stroke-width="1.25" stroke-dasharray="1 1" fill="none"/>
</g>
<g id="pE">
<text x="0.2" y="451.5" font-size="11.5" font-weight="bold" fill="#000" stroke="#000" stroke-width="0.55">E</text>
<path d="M60.9,456.40 V596.10" stroke="#231f20" stroke-width="1.5" fill="none"/>
<path d="M57.9,593.3 H245.0" stroke="#231f20" stroke-width="1.2" fill="none"/>
<text transform="translate(54.60,596.35) scale(0.92,1)" font-size="8.6" text-anchor="end">0</text>
<path d="M57.9,579.89 H60.9" stroke="#231f20" stroke-width="1" fill="none"/>
<text transform="translate(54.60,582.94) scale(0.92,1)" font-size="8.6" text-anchor="end">10</text>
<path d="M57.9,566.48 H60.9" stroke="#231f20" stroke-width="1" fill="none"/>
<text transform="translate(54.60,569.53) scale(0.92,1)" font-size="8.6" text-anchor="end">20</text>
<path d="M57.9,553.07 H60.9" stroke="#231f20" stroke-width="1" fill="none"/>
<text transform="translate(54.60,556.12) scale(0.92,1)" font-size="8.6" text-anchor="end">30</text>
<path d="M57.9,539.66 H60.9" stroke="#231f20" stroke-width="1" fill="none"/>
<text transform="translate(54.60,542.71) scale(0.92,1)" font-size="8.6" text-anchor="end">40</text>
<path d="M57.9,526.25 H60.9" stroke="#231f20" stroke-width="1" fill="none"/>
<text transform="translate(54.60,529.30) scale(0.92,1)" font-size="8.6" text-anchor="end">50</text>
<path d="M57.9,512.84 H60.9" stroke="#231f20" stroke-width="1" fill="none"/>
<text transform="translate(54.60,515.89) scale(0.92,1)" font-size="8.6" text-anchor="end">60</text>
<path d="M57.9,499.43 H60.9" stroke="#231f20" stroke-width="1" fill="none"/>
<text transform="translate(54.60,502.48) scale(0.92,1)" font-size="8.6" text-anchor="end">70</text>
<path d="M57.9,486.02 H60.9" stroke="#231f20" stroke-width="1" fill="none"/>
<text transform="translate(54.60,489.07) scale(0.92,1)" font-size="8.6" text-anchor="end">80</text>
<path d="M57.9,472.61 H60.9" stroke="#231f20" stroke-width="1" fill="none"/>
<text transform="translate(54.60,475.66) scale(0.92,1)" font-size="8.6" text-anchor="end">90</text>
<path d="M57.9,459.20 H60.9" stroke="#231f20" stroke-width="1" fill="none"/>
<text transform="translate(54.60,462.25) scale(0.92,1)" font-size="8.6" text-anchor="end">100</text>
<text transform="translate(60.90,606.70) scale(0.92,1)" font-size="8.6" text-anchor="middle">0</text>
<path d="M75.26,593.3 V596.30" stroke="#231f20" stroke-width="1" fill="none"/>
<text transform="translate(75.26,606.70) scale(0.92,1)" font-size="8.6" text-anchor="middle">1</text>
<path d="M89.62,593.3 V596.30" stroke="#231f20" stroke-width="1" fill="none"/>
<text transform="translate(89.62,606.70) scale(0.92,1)" font-size="8.6" text-anchor="middle">2</text>
<path d="M103.98,593.3 V596.30" stroke="#231f20" stroke-width="1" fill="none"/>
<text transform="translate(103.98,606.70) scale(0.92,1)" font-size="8.6" text-anchor="middle">3</text>
<path d="M118.34,593.3 V596.30" stroke="#231f20" stroke-width="1" fill="none"/>
<text transform="translate(118.34,606.70) scale(0.92,1)" font-size="8.6" text-anchor="middle">4</text>
<path d="M132.70,593.3 V596.30" stroke="#231f20" stroke-width="1" fill="none"/>
<text transform="translate(132.70,606.70) scale(0.92,1)" font-size="8.6" text-anchor="middle">5</text>
<path d="M147.06,593.3 V596.30" stroke="#231f20" stroke-width="1" fill="none"/>
<text transform="translate(147.06,606.70) scale(0.92,1)" font-size="8.6" text-anchor="middle">6</text>
<path d="M161.42,593.3 V596.30" stroke="#231f20" stroke-width="1" fill="none"/>
<text transform="translate(161.42,606.70) scale(0.92,1)" font-size="8.6" text-anchor="middle">7</text>
<path d="M175.78,593.3 V596.30" stroke="#231f20" stroke-width="1" fill="none"/>
<text transform="translate(175.78,606.70) scale(0.92,1)" font-size="8.6" text-anchor="middle">8</text>
<path d="M190.14,593.3 V596.30" stroke="#231f20" stroke-width="1" fill="none"/>
<text transform="translate(190.14,606.70) scale(0.92,1)" font-size="8.6" text-anchor="middle">9</text>
<path d="M204.50,593.3 V596.30" stroke="#231f20" stroke-width="1" fill="none"/>
<text transform="translate(204.50,606.70) scale(0.92,1)" font-size="8.6" text-anchor="middle">10</text>
<path d="M218.86,593.3 V596.30" stroke="#231f20" stroke-width="1" fill="none"/>
<text transform="translate(218.86,606.70) scale(0.92,1)" font-size="8.6" text-anchor="middle">11</text>
<path d="M233.22,593.3 V596.30" stroke="#231f20" stroke-width="1" fill="none"/>
<text transform="translate(233.22,606.70) scale(0.92,1)" font-size="8.6" text-anchor="middle">12</text>
<text x="63.20" y="620.00" font-size="9.8" stroke="#231f20" stroke-width="0.35" textLength="179.5" lengthAdjust="spacingAndGlyphs">Years since sample date collected for MBL screening</text>
<text transform="translate(36.30,582.30) rotate(-90)" x="0" y="0" font-size="10" stroke="#231f20" stroke-width="0.15" textLength="113" lengthAdjust="spacingAndGlyphs">OS (%) - adjusted for age and sex</text>
<text x="144.40" y="550.90" font-size="7.8" font-weight="bold" stroke="#231f20" stroke-width="0.3" textLength="49.3" lengthAdjust="spacingAndGlyphs">Total (Events)</text>
<path d="M67.10,561.90 H83.90" stroke="#bc1d44" stroke-width="1.5" fill="none"/>
<path d="M67.10,574.50 H83.90" stroke="#2f4c80" stroke-width="1" stroke-dasharray="1 1" fill="none"/>
<text transform="translate(87.10,564.80) scale(0.885,1)" font-size="8.6">CLL-like MBL</text>
<text transform="translate(87.10,576.80) scale(0.885,1)" font-size="8.6">Controls</text>
<text transform="translate(87.10,589.20) scale(0.885,1)" font-size="8.6">Wald <tspan font-style="italic">P</tspan> value: 0.924</text>
<text transform="translate(145.40,564.80) scale(0.885,1)" font-size="8.6">1451 (114)</text>
<text transform="translate(145.40,576.80) scale(0.885,1)" font-size="8.6">8174 (474)</text>
<text transform="translate(48.30,635.70) scale(0.885,1)" font-size="8.6" text-anchor="end">CLL-like MBL</text>
<text transform="translate(48.30,646.40) scale(0.915,1)" font-size="8.6" text-anchor="end">Controls</text>
<text transform="translate(60.90,635.70) scale(0.885,1)" font-size="8.6" text-anchor="middle">1451</text>
<text transform="translate(60.90,646.40) scale(0.885,1)" font-size="8.6" text-anchor="middle">8174</text>
<text transform="translate(89.62,635.70) scale(0.885,1)" font-size="8.6" text-anchor="middle">1030</text>
<text transform="translate(89.62,646.40) scale(0.885,1)" font-size="8.6" text-anchor="middle">5971</text>
<text transform="translate(118.34,635.70) scale(0.885,1)" font-size="8.6" text-anchor="middle">438</text>
<text transform="translate(118.34,646.40) scale(0.885,1)" font-size="8.6" text-anchor="middle">3069</text>
<text transform="translate(147.06,635.70) scale(0.885,1)" font-size="8.6" text-anchor="middle">314</text>
<text transform="translate(147.06,646.40) scale(0.885,1)" font-size="8.6" text-anchor="middle">2350</text>
<text transform="translate(175.78,635.70) scale(0.885,1)" font-size="8.6" text-anchor="middle">180</text>
<text transform="translate(175.78,646.40) scale(0.885,1)" font-size="8.6" text-anchor="middle">1514</text>
<text transform="translate(204.50,635.70) scale(0.885,1)" font-size="8.6" text-anchor="middle">114</text>
<text transform="translate(204.50,646.40) scale(0.885,1)" font-size="8.6" text-anchor="middle">984</text>
<text transform="translate(233.22,635.70) scale(0.885,1)" font-size="8.6" text-anchor="middle">49</text>
<text transform="translate(233.22,646.40) scale(0.885,1)" font-size="8.6" text-anchor="middle">398</text>
<path d="M60.9,459.5 L96.5,462.6 L129.2,465.5 L150,470.1 L169.2,473.5 L188.5,477.4 L195,478.9 L201.3,481 L208.8,482.1" stroke="#a81e40" stroke-width="1.25" fill="none" stroke-linejoin="round"/>
<path d="M208.8,482.1 L209.8,485.8 L213.5,486.3 L216.2,487.7 L225.7,487.9 L228.9,488.9 L232,490.5 L234.7,493.2 L236.8,494 L240.5,494.2 L240.7,500 L242.6,500" stroke="#bc1d44" stroke-width="1.25" fill="none" stroke-linejoin="round"/>
<path d="M208.8,482.1 L241,491" stroke="#2f4c80" stroke-width="1.25" stroke-dasharray="1 1" fill="none"/>
<path d="M60.9,459.5 L96.5,462.6 L129.2,465.5 L150,470.1 L169.2,473.5 L188.5,477.4 L195,478.9 L201.3,481 L208.8,482.1" stroke="#2e3448" stroke-width="1.25" stroke-dasharray="1 1" fill="none"/>
</g>
<g id="pF">
<text x="271.2" y="451.5" font-size="11.5" font-weight="bold" fill="#000" stroke="#000" stroke-width="0.55">F</text>
<path d="M342.5,456.40 V596.10" stroke="#231f20" stroke-width="1.5" fill="none"/>
<path d="M339.5,593.3 H517.7" stroke="#231f20" stroke-width="1.2" fill="none"/>
<text transform="translate(336.20,596.35) scale(0.92,1)" font-size="8.6" text-anchor="end">0</text>
<path d="M339.5,579.89 H342.5" stroke="#231f20" stroke-width="1" fill="none"/>
<text transform="translate(336.20,582.94) scale(0.92,1)" font-size="8.6" text-anchor="end">10</text>
<path d="M339.5,566.48 H342.5" stroke="#231f20" stroke-width="1" fill="none"/>
<text transform="translate(336.20,569.53) scale(0.92,1)" font-size="8.6" text-anchor="end">20</text>
<path d="M339.5,553.07 H342.5" stroke="#231f20" stroke-width="1" fill="none"/>
<text transform="translate(336.20,556.12) scale(0.92,1)" font-size="8.6" text-anchor="end">30</text>
<path d="M339.5,539.66 H342.5" stroke="#231f20" stroke-width="1" fill="none"/>
<text transform="translate(336.20,542.71) scale(0.92,1)" font-size="8.6" text-anchor="end">40</text>
<path d="M339.5,526.25 H342.5" stroke="#231f20" stroke-width="1" fill="none"/>
<text transform="translate(336.20,529.30) scale(0.92,1)" font-size="8.6" text-anchor="end">50</text>
<path d="M339.5,512.84 H342.5" stroke="#231f20" stroke-width="1" fill="none"/>
<text transform="translate(336.20,515.89) scale(0.92,1)" font-size="8.6" text-anchor="end">60</text>
<path d="M339.5,499.43 H342.5" stroke="#231f20" stroke-width="1" fill="none"/>
<text transform="translate(336.20,502.48) scale(0.92,1)" font-size="8.6" text-anchor="end">70</text>
<path d="M339.5,486.02 H342.5" stroke="#231f20" stroke-width="1" fill="none"/>
<text transform="translate(336.20,489.07) scale(0.92,1)" font-size="8.6" text-anchor="end">80</text>
<path d="M339.5,472.61 H342.5" stroke="#231f20" stroke-width="1" fill="none"/>
<text transform="translate(336.20,475.66) scale(0.92,1)" font-size="8.6" text-anchor="end">90</text>
<path d="M339.5,459.20 H342.5" stroke="#231f20" stroke-width="1" fill="none"/>
<text transform="translate(336.20,462.25) scale(0.92,1)" font-size="8.6" text-anchor="end">100</text>
<text transform="translate(342.50,606.70) scale(0.92,1)" font-size="8.6" text-anchor="middle">0</text>
<path d="M356.10,593.3 V596.30" stroke="#231f20" stroke-width="1" fill="none"/>
<text transform="translate(356.10,606.70) scale(0.92,1)" font-size="8.6" text-anchor="middle">1</text>
<path d="M369.70,593.3 V596.30" stroke="#231f20" stroke-width="1" fill="none"/>
<text transform="translate(369.70,606.70) scale(0.92,1)" font-size="8.6" text-anchor="middle">2</text>
<path d="M383.30,593.3 V596.30" stroke="#231f20" stroke-width="1" fill="none"/>
<text transform="translate(383.30,606.70) scale(0.92,1)" font-size="8.6" text-anchor="middle">3</text>
<path d="M396.90,593.3 V596.30" stroke="#231f20" stroke-width="1" fill="none"/>
<text transform="translate(396.90,606.70) scale(0.92,1)" font-size="8.6" text-anchor="middle">4</text>
<path d="M410.50,593.3 V596.30" stroke="#231f20" stroke-width="1" fill="none"/>
<text transform="translate(410.50,606.70) scale(0.92,1)" font-size="8.6" text-anchor="middle">5</text>
<path d="M424.10,593.3 V596.30" stroke="#231f20" stroke-width="1" fill="none"/>
<text transform="translate(424.10,606.70) scale(0.92,1)" font-size="8.6" text-anchor="middle">6</text>
<path d="M437.70,593.3 V596.30" stroke="#231f20" stroke-width="1" fill="none"/>
<text transform="translate(437.70,606.70) scale(0.92,1)" font-size="8.6" text-anchor="middle">7</text>
<path d="M451.30,593.3 V596.30" stroke="#231f20" stroke-width="1" fill="none"/>
<text transform="translate(451.30,606.70) scale(0.92,1)" font-size="8.6" text-anchor="middle">8</text>
<path d="M464.90,593.3 V596.30" stroke="#231f20" stroke-width="1" fill="none"/>
<text transform="translate(464.90,606.70) scale(0.92,1)" font-size="8.6" text-anchor="middle">9</text>
<path d="M478.50,593.3 V596.30" stroke="#231f20" stroke-width="1" fill="none"/>
<text transform="translate(478.50,606.70) scale(0.92,1)" font-size="8.6" text-anchor="middle">10</text>
<path d="M492.10,593.3 V596.30" stroke="#231f20" stroke-width="1" fill="none"/>
<text transform="translate(492.10,606.70) scale(0.92,1)" font-size="8.6" text-anchor="middle">11</text>
<path d="M505.70,593.3 V596.30" stroke="#231f20" stroke-width="1" fill="none"/>
<text transform="translate(505.70,606.70) scale(0.92,1)" font-size="8.6" text-anchor="middle">12</text>
<text x="340.35" y="620.00" font-size="9.8" stroke="#231f20" stroke-width="0.35" textLength="179.5" lengthAdjust="spacingAndGlyphs">Years since sample date collected for MBL screening</text>
<text transform="translate(317.90,582.30) rotate(-90)" x="0" y="0" font-size="10" stroke="#231f20" stroke-width="0.15" textLength="113" lengthAdjust="spacingAndGlyphs">OS (%) - adjusted for age and sex</text>
<text x="441.30" y="549.90" font-size="7.8" font-weight="bold" stroke="#231f20" stroke-width="0.3" textLength="49.3" lengthAdjust="spacingAndGlyphs">Total (Events)</text>
<path d="M348.70,560.90 H365.50" stroke="#bc1d44" stroke-width="1.5" fill="none"/>
<path d="M348.70,573.50 H365.50" stroke="#2f4c80" stroke-width="1" stroke-dasharray="1 1" fill="none"/>
<text transform="translate(368.70,563.80) scale(0.905,1)" font-size="8.6">Non-CLL like MBL</text>
<text transform="translate(368.70,575.80) scale(0.885,1)" font-size="8.6">Controls</text>
<text transform="translate(368.70,588.20) scale(0.905,1)" font-size="8.6">Wald P value: 0.982</text>
<text transform="translate(464.35,563.80) scale(0.885,1)" font-size="8.6" text-anchor="middle">257 (26)</text>
<text transform="translate(464.35,575.80) scale(0.885,1)" font-size="8.6" text-anchor="middle">8174 (474)</text>
<text transform="translate(329.90,635.70) scale(0.885,1)" font-size="8.6" text-anchor="end">Non-CLL like MBL</text>
<text transform="translate(329.90,646.40) scale(0.915,1)" font-size="8.6" text-anchor="end">Controls</text>
<text transform="translate(342.50,635.70) scale(0.885,1)" font-size="8.6" text-anchor="middle">257</text>
<text transform="translate(342.50,646.40) scale(0.885,1)" font-size="8.6" text-anchor="middle">8174</text>
<text transform="translate(369.70,635.70) scale(0.885,1)" font-size="8.6" text-anchor="middle">174</text>
<text transform="translate(369.70,646.40) scale(0.885,1)" font-size="8.6" text-anchor="middle">5971</text>
<text transform="translate(396.90,635.70) scale(0.885,1)" font-size="8.6" text-anchor="middle">74</text>
<text transform="translate(396.90,646.40) scale(0.885,1)" font-size="8.6" text-anchor="middle">3069</text>
<text transform="translate(424.10,635.70) scale(0.885,1)" font-size="8.6" text-anchor="middle">50</text>
<text transform="translate(424.10,646.40) scale(0.885,1)" font-size="8.6" text-anchor="middle">2350</text>
<text transform="translate(451.30,635.70) scale(0.885,1)" font-size="8.6" text-anchor="middle">25</text>
<text transform="translate(451.30,646.40) scale(0.885,1)" font-size="8.6" text-anchor="middle">1514</text>
<text transform="translate(478.50,635.70) scale(0.885,1)" font-size="8.6" text-anchor="middle">17</text>
<text transform="translate(478.50,646.40) scale(0.885,1)" font-size="8.6" text-anchor="middle">984</text>
<text transform="translate(505.70,635.70) scale(0.885,1)" font-size="8.6" text-anchor="middle">7</text>
<text transform="translate(505.70,646.40) scale(0.885,1)" font-size="8.6" text-anchor="middle">398</text>
<path d="M342.5,459.2 L345.2,460.3 L364.2,461.3 V463.2 H391.9 V464.5 H433.5 V466.7 H435.4 V468.1 H456.9 V470.6 H474.8 V472.5 H481.5 V474.4 H486.3 V479.2 H492.1 V483.5 H502.4 V487.1 H512.2 V521.3" stroke="#bc1d44" stroke-width="1.25" fill="none"/>
<path d="M342.5,459.2 L370,461.6 L400,464.1 L420,467.7 L440,471 L458.5,474.4 L485.4,481.2 L500.8,486 L512.3,488.8" stroke="#2f4c80" stroke-width="1.25" stroke-dasharray="1 1" fill="none"/>
</g>
</svg>
</body></html>
